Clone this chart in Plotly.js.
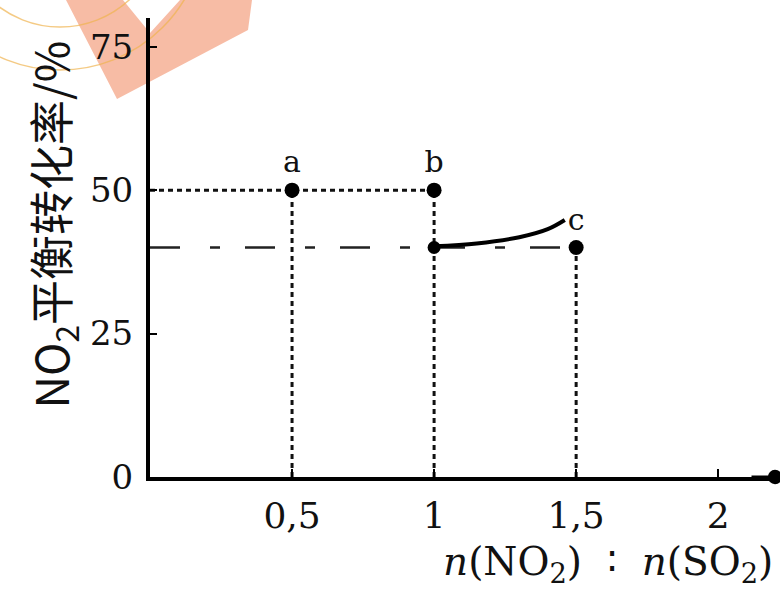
<!DOCTYPE html>
<html>
<head>
<meta charset="utf-8">
<script src="https://cdn.plot.ly/plotly-3.0.1.min.js"></script>
<style>html,body{margin:0;padding:0;background:#fff}#chart{width:780px;height:593px}</style>
</head>
<body>
<div id="chart"></div>
<script>
// ---- data ----
const pointLabels = ['a', 'b', 'c'];
const ratioX = [0.5, 1, 1.5];          // n(NO2):n(SO2)
const conversionY = [50, 50, 40];      // NO2 equilibrium conversion / %
const lowerPointX = [1];               // extra point on the 40% line
const lowerPointY = [40];
const curveX = [1.0, 1.15, 1.3, 1.4, 1.46];
const curveY = [40.2, 40.7, 41.8, 43.2, 44.8];
const xTickVals = [0.5, 1, 1.5, 2];
const xTickText = ['0,5', '1', '1,5', '2'];
const yTickVals = [0, 25, 50, 75];
const yTickText = ['0', '25', '50', '75'];

const serif = 'DejaVu Serif, Liberation Serif, serif';
const dashStyle = '5px,4px';
const traces = [];

// horizontal dashed guide at a/b level (from y-axis to b)
traces.push({x: [0, ratioX[1]], y: [conversionY[0], conversionY[1]], mode: 'lines',
  line: {color: '#111', width: 3, dash: dashStyle}, hoverinfo: 'skip'});
// horizontal dashed guide at c level (from y-axis to c)
traces.push({x: [0, ratioX[2]], y: [conversionY[2], conversionY[2]], mode: 'lines',
  line: {color: '#222', width: 2.5, dash: '30px,30px,10px,25px'}, hoverinfo: 'skip'});
// vertical dashed guides from each point to the x-axis
ratioX.forEach((xv, i) => {
  traces.push({x: [xv, xv], y: [0, conversionY[i]], mode: 'lines',
    line: {color: '#111', width: 3, dash: dashStyle}, hoverinfo: 'skip'});
});
// hand-drawn curve near c
traces.push({x: curveX, y: curveY, mode: 'lines', line: {color: '#000', width: 4, shape: 'spline'}, hoverinfo: 'skip'});
// points
traces.push({x: ratioX, y: conversionY, mode: 'markers+text', text: pointLabels,
  textposition: 'top center', textfont: {family: serif, size: 30, color: '#111'},
  marker: {color: '#000', size: 15}, cliponaxis: false, hoverinfo: 'skip'});
traces.push({x: lowerPointX, y: lowerPointY, mode: 'markers', marker: {color: '#000', size: 13}, hoverinfo: 'skip'});

const layout = {
  width: 780, height: 593,
  margin: {l: 150, r: 5, t: 18, b: 116},
  paper_bgcolor: '#fff', plot_bgcolor: '#fff',
  showlegend: false,
  xaxis: {range: [0, 2.2], tickvals: xTickVals, ticktext: xTickText, showgrid: false, zeroline: false,
    showline: true, linecolor: '#000', linewidth: 4, ticks: 'inside', ticklen: 8, tickwidth: 2, tickcolor: '#000',
    tickfont: {family: serif, size: 36, color: '#111'}, ticklabelstandoff: 4, fixedrange: true},
  yaxis: {range: [0, 80], tickvals: yTickVals, ticktext: yTickText, showgrid: false, zeroline: false,
    showline: true, linecolor: '#000', linewidth: 4, ticks: 'inside', ticklen: 7, tickwidth: 2, tickcolor: '#000',
    tickfont: {family: serif, size: 34, color: '#111'}, ticklabelstandoff: 6, fixedrange: true},
  shapes: [
    {type: 'path', xref: 'paper', yref: 'paper', layer: 'below', line: {width: 0},
      fillcolor: 'rgba(244,165,135,0.75)',
      path: 'M -0.1344,1.0392 L -0.0528,0.8235 L 0.1568,0.9739 L 0.1632,1.0392 L 0.048,1.0392 L 0,0.9673 L -0.0432,1.0392 Z'},
    {type: 'circle', xref: 'paper', yref: 'paper', layer: 'below', line: {color: 'rgba(240,180,80,0.7)', width: 1.5},
      x0: -0.376, x1: 0.088, y0: 0.8867, y1: 1.5185},
    {type: 'circle', xref: 'paper', yref: 'paper', layer: 'below', line: {color: 'rgba(240,180,80,0.7)', width: 1.5},
      x0: -0.3072, x1: 0.0192, y0: 0.9804, y1: 1.4248}
  ],
  annotations: [
    {x: 0, y: 80.8, xref: 'x', yref: 'y', ax: 0, ay: 30, showarrow: true, arrowhead: 2, arrowsize: 1.2, arrowwidth: 3, arrowcolor: '#000', text: ''},
    {x: 2.2, y: 0, xref: 'x', yref: 'y', ax: -25, ay: 0, showarrow: true, arrowhead: 6, arrowsize: 1.2, arrowwidth: 3, arrowcolor: '#000', text: ''},
    {x: -0.157, y: 0.55, xref: 'paper', yref: 'paper', xanchor: 'center', yanchor: 'middle', textangle: -90, showarrow: false,
      text: 'NO<sub>2</sub>平衡转化率/%', font: {family: 'Noto Sans CJK SC, sans-serif', size: 45, color: '#111'}},
    {x: 1.0, y: -0.19, xref: 'paper', yref: 'paper', xanchor: 'right', yanchor: 'middle', showarrow: false,
      text: '<i>n</i>(NO<sub>2</sub>)  ∶  <i>n</i>(SO<sub>2</sub>)', font: {family: serif, size: 39, color: '#111'}}
  ]
};

Plotly.newPlot('chart', traces, layout, {displayModeBar: false, staticPlot: true});
</script>
</body>
</html>
